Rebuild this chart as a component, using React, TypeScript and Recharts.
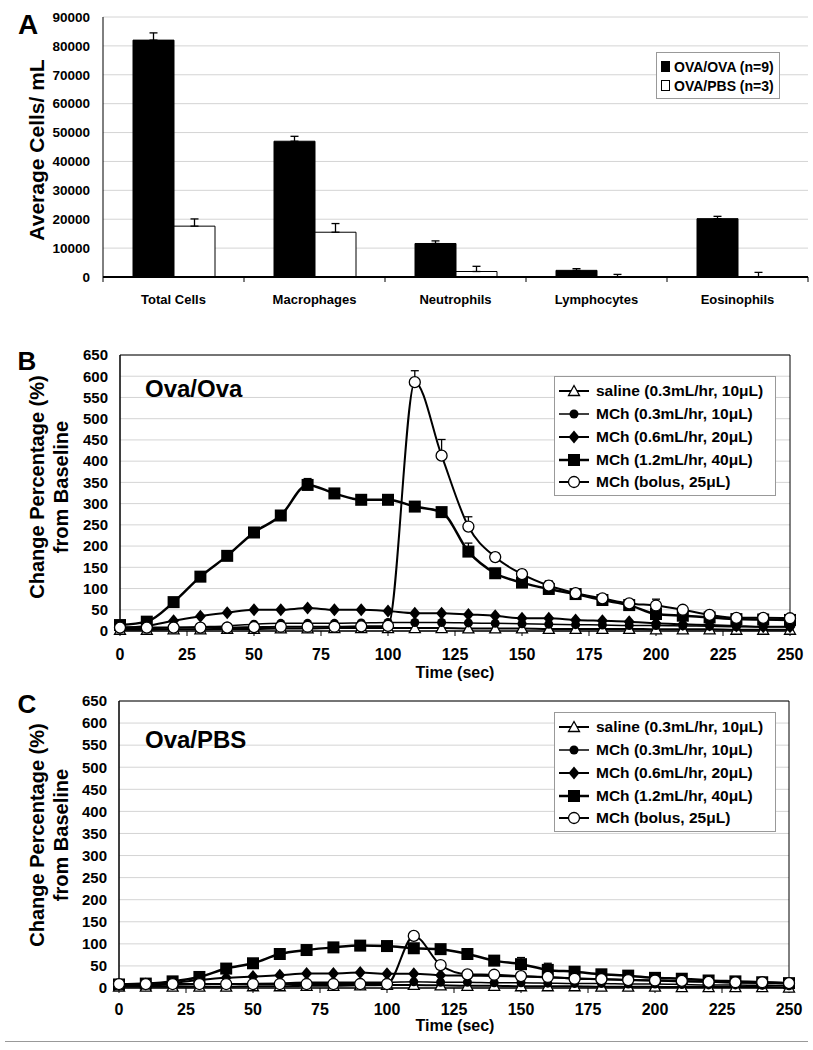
import React from 'react';
import {
  BarChart, Bar, XAxis, YAxis, CartesianGrid, ErrorBar, Legend, ReferenceArea,
  LineChart, Line,
} from 'recharts';

const FONT = '"Liberation Sans", Arial, Helvetica, sans-serif';

// ---------- Panel A data ----------
const cellCategories = ['Total Cells', 'Macrophages', 'Neutrophils', 'Lymphocytes', 'Eosinophils'];
const ovaOvaCells = [82000, 47000, 11600, 2300, 20200];
const ovaOvaCellsErr = [2500, 1700, 900, 600, 800];
const ovaPbsCells = [17600, 15500, 1900, 100, 100];
const ovaPbsCellsErr = [2500, 3000, 1800, 800, 1500];
const cellTicks = [0, 10000, 20000, 30000, 40000, 50000, 60000, 70000, 80000, 90000];

// ---------- Panels B / C data ----------
const timePoints = [0, 10, 20, 30, 40, 50, 60, 70, 80, 90, 100, 110, 120, 130, 140, 150, 160, 170, 180, 190, 200, 210, 220, 230, 240, 250];
const timeTicks = [0, 25, 50, 75, 100, 125, 150, 175, 200, 225, 250];
const pctTicks = [0, 50, 100, 150, 200, 250, 300, 350, 400, 450, 500, 550, 600, 650];

const seriesNames = [
  'saline (0.3mL/hr, 10\u03BCL)',
  'MCh (0.3mL/hr, 10\u03BCL)',
  'MCh (0.6mL/hr, 20\u03BCL)',
  'MCh (1.2mL/hr, 40\u03BCL)',
  'MCh (bolus, 25\u03BCL)',
];

// Ova/Ova
const salineB = [3, 3, 4, 4, 5, 5, 6, 6, 7, 7, 7, 7, 7, 6, 6, 6, 5, 5, 5, 5, 4, 4, 4, 3, 3, 3];
const mch03B = [6, 6, 8, 10, 12, 16, 18, 18, 18, 19, 20, 20, 20, 19, 18, 17, 16, 15, 14, 13, 13, 12, 11, 10, 10, 10];
const mch06B = [8, 12, 24, 35, 43, 50, 50, 54, 50, 50, 47, 42, 42, 39, 36, 30, 30, 26, 24, 22, 18, 16, 14, 12, 10, 10];
const mch12B = [14, 22, 68, 128, 177, 232, 272, 344, 324, 309, 309, 293, 280, 187, 136, 114, 99, 87, 73, 61, 40, 36, 32, 28, 27, 26];
const bolusB = [8, 8, 8, 8, 8, 9, 10, 10, 10, 11, 12, 586, 413, 246, 174, 134, 107, 89, 77, 65, 60, 50, 38, 31, 31, 30];
const mch12BErr = [0, 0, 0, 0, 0, 8, 0, 15, 0, 0, 0, 0, 0, 20, 0, 0, 0, 0, 0, 0, 5, 0, 0, 0, 0, 0];
const bolusBErr = [0, 0, 0, 0, 0, 0, 0, 0, 0, 0, 0, 27, 38, 23, 10, 10, 11, 0, 0, 0, 15, 0, 0, 0, 0, 0];

// Ova/PBS
const salineC = [3, 3, 3, 3, 3, 4, 4, 5, 5, 6, 7, 7, 6, 5, 5, 4, 4, 4, 3, 3, 3, 2, 2, 2, 2, 1];
const mch03C = [5, 6, 7, 8, 9, 10, 11, 13, 13, 13, 13, 14, 13, 13, 12, 12, 11, 10, 10, 9, 9, 8, 7, 7, 6, 5];
const mch06C = [8, 9, 12, 18, 23, 26, 29, 33, 33, 35, 32, 32, 29, 28, 27, 26, 24, 22, 20, 18, 17, 15, 14, 12, 11, 10];
const mch12C = [8, 10, 15, 25, 44, 56, 77, 86, 92, 96, 95, 90, 88, 77, 62, 54, 41, 37, 31, 28, 23, 21, 17, 15, 13, 11];
const bolusC = [9, 9, 9, 9, 9, 9, 9, 9, 9, 9, 9, 118, 52, 31, 30, 27, 25, 21, 20, 18, 17, 16, 14, 13, 13, 11];
const mch12CErr = [0, 0, 0, 0, 0, 10, 0, 0, 0, 0, 0, 0, 0, 0, 0, 15, 15, 0, 0, 0, 0, 0, 0, 0, 0, 0];
const bolusCErr = [0, 0, 0, 0, 0, 0, 0, 0, 0, 0, 0, 0, 0, 0, 0, 0, 0, 0, 0, 0, 0, 0, 0, 0, 0, 0];

// ---------- helpers ----------
const cellRows = cellCategories.map((c, i) => ({
  category: c,
  ovaOva: ovaOvaCells[i],
  ovaOvaErr: [0, ovaOvaCellsErr[i]],
  ovaPbs: ovaPbsCells[i],
  ovaPbsErr: [0, ovaPbsCellsErr[i]],
}));

const errPair = (e: number) => (e ? [0, e] : null);

function buildRows(s: number[], m3: number[], m6: number[], m12: number[], b: number[], e12: number[], eb: number[]) {
  return timePoints.map((t, i) => ({
    t,
    saline: s[i],
    mch03: m3[i],
    mch06: m6[i],
    mch12: m12[i],
    mch12Err: errPair(e12[i]),
    bolus: b[i],
    bolusErr: errPair(eb[i]),
  }));
}

const rowsB = buildRows(salineB, mch03B, mch06B, mch12B, bolusB, mch12BErr, bolusBErr);
const rowsC = buildRows(salineC, mch03C, mch06C, mch12C, bolusC, mch12CErr, bolusCErr);

type Kind = 'triangle' | 'dot' | 'diamond' | 'square' | 'ring';
const kinds: Kind[] = ['triangle', 'dot', 'diamond', 'square', 'ring'];
const seriesKeys = ['saline', 'mch03', 'mch06', 'mch12', 'bolus'];
const seriesWidths = [2, 1.5, 2, 2.5, 2];

function marker(kind: Kind, cx: number, cy: number, key?: any) {
  switch (kind) {
    case 'triangle':
      return <polygon key={key} points={`${cx},${cy - 5.5} ${cx + 5.5},${cy + 4.5} ${cx - 5.5},${cy + 4.5}`} fill="#fff" stroke="#000" strokeWidth={1.3} />;
    case 'dot':
      return <circle key={key} cx={cx} cy={cy} r={4.5} fill="#000" />;
    case 'diamond':
      return <polygon key={key} points={`${cx},${cy - 6.5} ${cx + 5.5},${cy} ${cx},${cy + 6.5} ${cx - 5.5},${cy}`} fill="#000" />;
    case 'square':
      return <rect key={key} x={cx - 6} y={cy - 6} width={12} height={12} fill="#000" />;
    case 'ring':
    default:
      return <circle key={key} cx={cx} cy={cy} r={5.5} fill="#fff" stroke="#000" strokeWidth={1.3} />;
  }
}

const labelStyle = (size: number): React.CSSProperties => ({
  position: 'absolute',
  fontFamily: FONT,
  fontWeight: 'bold',
  fontSize: size,
  lineHeight: 1,
  color: '#000',
  whiteSpace: 'nowrap',
});

function CenterText({ x, y, size, children, rotate }: { x: number; y: number; size: number; children: React.ReactNode; rotate?: boolean }) {
  return (
    <div
      style={{
        ...labelStyle(size),
        left: x,
        top: y,
        transform: `translate(-50%, -50%)${rotate ? ' rotate(-90deg)' : ''}`,
        textAlign: 'center',
      }}
    >
      {children}
    </div>
  );
}

// ---------- Panel A ----------
const CategoryTick = (props: any) => {
  const { x, y, payload, width, visibleTicksCount, index } = props;
  let half = Number(width) / Number(visibleTicksCount) / 2;
  if (!isFinite(half) || half <= 0) half = payload && payload.offset ? payload.offset : 70.5;
  return (
    <g>
      <line x1={x - half} x2={x - half} y1={y} y2={y + 5} stroke="#000" strokeWidth={1} />
      {index === visibleTicksCount - 1 ? (
        <line x1={x + half} x2={x + half} y1={y} y2={y + 5} stroke="#000" strokeWidth={1} />
      ) : null}
      <text x={x} y={y + 27} textAnchor="middle" fontSize={13} fontWeight="bold" fontFamily={FONT} fill="#000">
        {payload.value}
      </text>
    </g>
  );
};

const barLegend = () => (
  <div style={{ border: '1px solid #999', background: '#fff', width: 124, height: 47, boxSizing: 'border-box', padding: '4px 0 0 4px', fontFamily: FONT, fontWeight: 'bold', fontSize: 14 }}>
    {[
      { fill: '#000', name: 'OVA/OVA (n=9)' },
      { fill: '#fff', name: 'OVA/PBS (n=3)' },
    ].map((e) => (
      <div key={e.name} style={{ display: 'flex', alignItems: 'center', height: 19 }}>
        <div style={{ width: 9, height: 11, background: e.fill, border: '1px solid #000', boxSizing: 'border-box', marginRight: 4 }} />
        <span>{e.name}</span>
      </div>
    ))}
  </div>
);

function PanelA() {
  return (
    <div style={{ position: 'absolute', left: 0, top: 0 }}>
      <BarChart width={813} height={320} data={cellRows} margin={{ top: 17, right: 5, left: 43, bottom: 0 }} barGap={0} barSize={41}>
        <CartesianGrid vertical={false} stroke="#d4d4d4" />
        <XAxis
          dataKey="category"
          interval={0}
          height={43}
          tickSize={0}
          tickMargin={0}
          tickLine={false}
          axisLine={{ stroke: '#000', strokeWidth: 2 }}
          tick={<CategoryTick />}
        />
        <XAxis xAxisId="frameTop" dataKey="category" orientation="top" height={0} tick={false} tickLine={false} axisLine={{ stroke: '#000' }} />
        <YAxis
          domain={[0, 90000]}
          ticks={cellTicks}
          interval={0}
          width={60}
          tickSize={0}
          tickMargin={13}
          tickLine={false}
          axisLine={{ stroke: '#000' }}
          tick={{ fontSize: 13.5, fontWeight: 'bold', fontFamily: FONT, fill: '#000' }}
        />
        <YAxis yAxisId="frameRight" orientation="right" width={0} domain={[0, 90000]} tick={false} tickLine={false} axisLine={{ stroke: '#000' }} />
        <Bar dataKey="ovaOva" fill="#000" stroke="#000" isAnimationActive={false}>
          <ErrorBar dataKey="ovaOvaErr" width={4} stroke="#000" strokeWidth={1.3} direction="y" />
        </Bar>
        <Bar dataKey="ovaPbs" fill="#fff" stroke="#000" strokeWidth={1} isAnimationActive={false}>
          <ErrorBar dataKey="ovaPbsErr" width={4} stroke="#000" strokeWidth={1.3} direction="y" />
        </Bar>
        <Legend
          layout="horizontal"
          verticalAlign="middle"
          align="center"
          content={barLegend}
          wrapperStyle={{ left: 656, top: 52, width: 124, height: 47 }}
        />
      </BarChart>
      <CenterText x={28} y={25} size={28}>A</CenterText>
      <CenterText x={36} y={150} size={21} rotate>Average Cells/ mL</CenterText>
    </div>
  );
}

// ---------- Panels B / C ----------
const lineLegend = () => (
  <div style={{ border: '1px solid #999', background: '#fff', width: 222, height: 120, boxSizing: 'border-box', paddingTop: 3, fontFamily: FONT, fontWeight: 'bold', fontSize: 15.5 }}>
    {seriesNames.map((n, i) => (
      <div key={n} style={{ display: 'flex', alignItems: 'center', height: 22.75 }}>
        <svg width={40} height={16} style={{ marginLeft: 3, marginRight: 2 }}>
          <line x1={1} x2={31} y1={8} y2={8} stroke="#000" strokeWidth={seriesWidths[i]} />
          {marker(kinds[i], 16, 8)}
        </svg>
        <span style={{ marginLeft: -4 }}>{n}</span>
      </div>
    ))}
  </div>
);

function LinePanel({ top, rows, margin, xHeight, tickGap, legendTop, letter, letterY, group, groupY, yTitleY, timeY }: any) {
  return (
    <div style={{ position: 'absolute', left: 0, top }}>
      <LineChart width={813} height={370} data={rows} margin={margin}>
        <CartesianGrid vertical={false} stroke="#d4d4d4" />
        <XAxis
          dataKey="t"
          type="number"
          domain={[0, 250]}
          ticks={timeTicks}
          interval={0}
          height={xHeight}
          tickSize={5}
          tickMargin={tickGap}
          tickLine={{ stroke: '#000' }}
          axisLine={{ stroke: '#000' }}
          tick={{ fontSize: 16, fontWeight: 'bold', fontFamily: FONT, fill: '#000' }}
        />
        <YAxis
          domain={[0, 650]}
          ticks={pctTicks}
          interval={0}
          width={60}
          tickSize={0}
          tickMargin={12}
          tickLine={false}
          axisLine={{ stroke: '#000' }}
          tick={{ fontSize: 15, fontWeight: 'bold', fontFamily: FONT, fill: '#000' }}
        />
        <ReferenceArea x1={0} x2={250} y1={0} y2={650} fill="none" stroke="#000" strokeWidth={1} />
        {seriesKeys.map((k, i) => (
          <Line
            key={k}
            dataKey={k}
            type="monotone"
            stroke="#000"
            strokeWidth={seriesWidths[i]}
            isAnimationActive={false}
            activeDot={false}
            dot={(p: any) => marker(kinds[i], p.cx, p.cy, `${k}-${p.index}`)}
          >
            {k === 'mch12' || k === 'bolus' ? (
              <ErrorBar dataKey={`${k}Err`} width={4} stroke="#000" strokeWidth={1.3} direction="y" />
            ) : null}
          </Line>
        ))}
        <Legend
          layout="horizontal"
          verticalAlign="middle"
          align="center"
          content={lineLegend}
          wrapperStyle={{ left: 554, top: legendTop, width: 222, height: 120 }}
        />
      </LineChart>
      <CenterText x={27} y={letterY} size={26}>{letter}</CenterText>
      <div style={{ ...labelStyle(24), left: 145, top: groupY }}>{group}</div>
      <div
        style={{
          ...labelStyle(20),
          left: 49,
          top: yTitleY,
          transform: 'translate(-50%, -50%) rotate(-90deg)',
          textAlign: 'center',
          lineHeight: '24px',
        }}
      >
        Change Percentage (%)
        <br />
        from Baseline
      </div>
      <CenterText x={455} y={timeY} size={16}>Time (sec)</CenterText>
    </div>
  );
}

export default function App() {
  return (
    <div style={{ position: 'absolute', left: 0, top: 0, width: 813, height: 1050, background: '#fff', overflow: 'hidden' }}>
      <PanelA />
      <LinePanel
        top={320}
        rows={rowsB}
        margin={{ top: 35, right: 23, left: 60, bottom: 0 }}
        xHeight={59}
        tickGap={13}
        legendTop={56}
        letter="B"
        letterY={41}
        group="Ova/Ova"
        groupY={57}
        yTitleY={167}
        timeY={353}
      />
      <LinePanel
        top={680}
        rows={rowsC}
        margin={{ top: 21, right: 24, left: 59, bottom: 0 }}
        xHeight={62}
        tickGap={11}
        legendTop={32}
        letter="C"
        letterY={24}
        group="Ova/PBS"
        groupY={48}
        yTitleY={155}
        timeY={346}
      />
      <div style={{ position: 'absolute', left: 5, top: 1041, width: 803, height: 1, background: '#999' }} />
    </div>
  );
}
